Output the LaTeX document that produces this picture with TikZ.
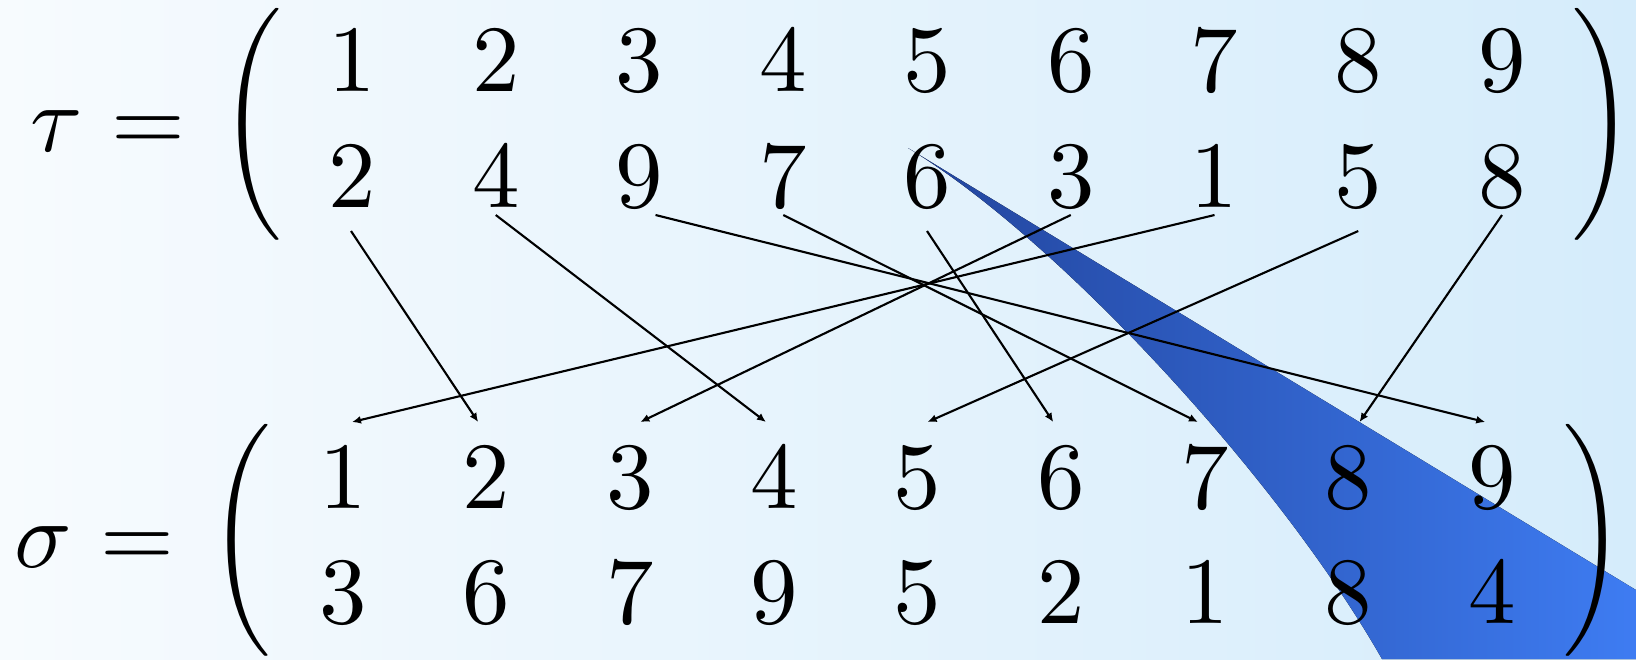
\documentclass[tikz,border=0pt]{standalone}
\usetikzlibrary{backgrounds,arrows.meta}
\definecolor{txt}{HTML}{000000}
\definecolor{bgL}{HTML}{F7FBFE}
\definecolor{bgR}{HTML}{D5ECFB}
\definecolor{blD}{HTML}{22449C}
\definecolor{blL}{HTML}{3E7CF2}
\newcommand{\parL}{\left(\vcenter to 28pt{}\right.}
\newcommand{\parR}{\left.\vcenter to 28pt{}\right)}

\begin{document}
\begin{tikzpicture}[x=0.1mm,y=-0.1mm,
  text=txt,
  >={Latex[length=0.9mm,width=0.8mm]},
  num/.style={inner sep=0pt,anchor=base,scale=2.7},
  brk/.style={inner sep=0pt,scale=2.2},
  map/.style={->,line width=0.6pt,txt},
  ]
\useasboundingbox (0,0) rectangle (1636,659);

% ================= tau: two-line form =================
\node[num] (tau) at (57,151) {$\tau$};
\node[num] (taueq) at (148,151) {$=$};
\node[brk] (tauL) at (256,124) {$\parL$};
\node[brk] (tauR) at (1598,124) {$\parR$};
\foreach \v [count=\i] in {1,...,9}
  \node[num] (t1-\i) at ({352+143.75*(\i-1)},91) {$\v$};
\foreach \v [count=\i] in {2,4,9,7,6,3,1,5,8}
  \node[num] (t2-\i) at ({352+143.75*(\i-1)},207) {$\v$};

% ================= sigma: two-line form =================
\node[num] (sigma) at (43,567) {$\sigma$};
\node[num] (sigeq) at (137,567) {$=$};
\node[brk] (sigL) at (245,540) {$\parL$};
\node[brk] (sigR) at (1589,540) {$\parR$};
\foreach \v [count=\i] in {1,...,9}
  \node[num] (s1-\i) at ({343+143.65*(\i-1)},508) {$\v$};
\foreach \v [count=\i] in {3,6,7,9,5,2,1,8,4}
  \node[num] (s2-\i) at ({343+143.65*(\i-1)},623) {$\v$};

% ---- images of tau -> first row of sigma ----
\foreach \i/\v/\sy/\sx/\ex in {1/2/2.4/-0.1/-0.85, 2/4/0.8/0/-0.8, 3/9/0.8/1.6/-0.7,
    4/7/0.8/0/-0.7, 5/6/2.4/0/-0.8, 6/3/0.8/0/1.0, 7/1/0.8/0/0.9, 8/5/2.4/0/1.0, 9/8/0.8/0/1.1}
  \draw[map] ([xshift=\sx mm,yshift=-\sy mm]t2-\i.base) -- ([xshift=\ex mm,yshift=8.6mm]s1-\v.base);

% ================= backdrop + callout wedge =================
\begin{scope}[on background layer]
\fill[left color=bgL,right color=bgR] (0,0) rectangle (1636,659);
\fill[left color=blD,right color=blL] (908,148) -- (1636,590) -- (1636,659) -- (1382,659)
  .. controls (1280,480) and (1060,240) .. (908,148) -- cycle;
\end{scope}

\end{tikzpicture}
\end{document}
